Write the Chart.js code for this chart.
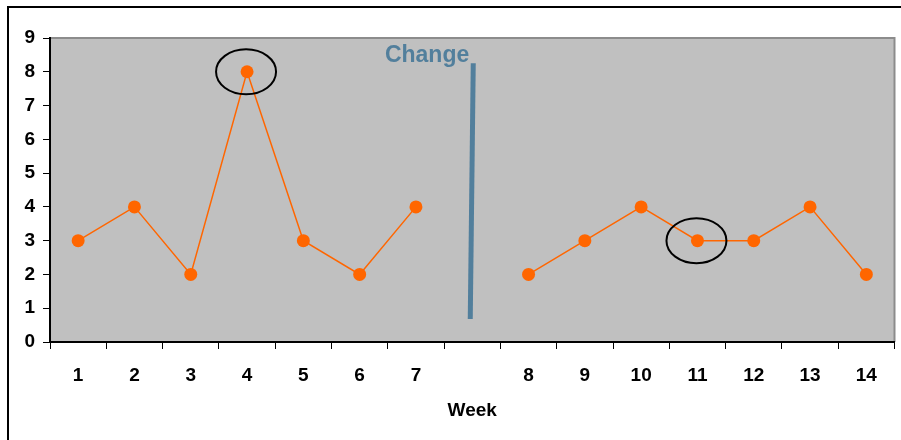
<!DOCTYPE html>
<html>
<head>
<meta charset="utf-8">
<script src="https://cdn.jsdelivr.net/npm/chart.js@4/dist/chart.umd.min.js"></script>
<style>
  html, body { margin: 0; padding: 0; background: #fff; }
  #wrap { width: 901px; height: 440px; position: relative; }
</style>
</head>
<body>
<div id="wrap"><canvas id="c"></canvas></div>
<script>
// Weekly counts, with an empty slot marking where the change was made
const weekLabels = ['1', '2', '3', '4', '5', '6', '7', '', '8', '9', '10', '11', '12', '13', '14'];
const countValues = [3, 4, 2, 8, 3, 2, 4, null, 2, 3, 4, 3, 3, 4, 2];
const circledWeeks = ['4', '11'];
const changeSlot = '';
const changeSpan = [0.68, 8.25];
const changeLabel = 'Change';
const axisTitle = 'Week';

const ORANGE = '#ff6600';
const CHANGE_BLUE = '#527f9c';

const frameAndAnnotations = {
  id: 'frameAndAnnotations',
  beforeDraw(chart) {
    const { ctx, chartArea: a } = chart;
    ctx.save();
    // outer frame (left and top edges)
    ctx.strokeStyle = '#000';
    ctx.lineWidth = 2;
    ctx.beginPath();
    ctx.moveTo(8, 440);
    ctx.lineTo(8, 7);
    ctx.lineTo(901, 7);
    ctx.stroke();
    // plot area
    ctx.fillStyle = '#c0c0c0';
    ctx.fillRect(a.left, a.top, a.right - a.left, a.bottom - a.top);
    ctx.strokeStyle = '#8c8c8c';
    ctx.lineWidth = 2;
    ctx.beginPath();
    ctx.moveTo(a.left, a.top);
    ctx.lineTo(a.right, a.top);
    ctx.lineTo(a.right, a.bottom);
    ctx.stroke();
    ctx.restore();
  },
  afterDatasetsDraw(chart) {
    const { ctx } = chart;
    const xs = chart.scales.x, ys = chart.scales.y;
    ctx.save();
    // change marker
    const cx = xs.getPixelForValue(weekLabels.indexOf(changeSlot));
    const yTop = ys.getPixelForValue(changeSpan[1]);
    const yBot = ys.getPixelForValue(changeSpan[0]);
    ctx.strokeStyle = CHANGE_BLUE;
    ctx.lineWidth = 5;
    ctx.beginPath();
    ctx.moveTo(cx + 1, yTop);
    ctx.lineTo(cx - 2, yBot);
    ctx.stroke();
    ctx.fillStyle = CHANGE_BLUE;
    ctx.font = 'bold 23px "Liberation Sans", Arial, sans-serif';
    ctx.textAlign = 'right';
    ctx.textBaseline = 'alphabetic';
    ctx.fillText(changeLabel, cx - 3, yTop - 1);
    // circled points
    ctx.strokeStyle = '#000';
    ctx.lineWidth = 2;
    circledWeeks.forEach(w => {
      const i = weekLabels.indexOf(w);
      const px = xs.getPixelForValue(i);
      const py = ys.getPixelForValue(countValues[i]);
      ctx.beginPath();
      ctx.ellipse(px - 1, py, 30, 22.5, 0, 0, Math.PI * 2);
      ctx.stroke();
    });
    ctx.restore();
  }
};

const tickFont = { family: '"Liberation Sans", Arial, sans-serif', size: 19, weight: 'bold' };

new Chart(document.getElementById('c'), {
  type: 'line',
  data: {
    labels: weekLabels,
    datasets: [{
      data: countValues,
      borderColor: ORANGE,
      backgroundColor: ORANGE,
      borderWidth: 1.5,
      pointRadius: 6.5,
      pointHoverRadius: 6.5,
      pointBorderWidth: 0,
      tension: 0,
      spanGaps: false
    }]
  },
  options: {
    responsive: true,
    maintainAspectRatio: false,
    animation: false,
    events: [],
    layout: { padding: { top: 38, right: 4, left: 0, bottom: 0 } },
    plugins: { legend: { display: false }, tooltip: { enabled: false } },
    scales: {
      x: {
        type: 'category',
        offset: true,
        grid: { offset: true, drawOnChartArea: false, tickLength: 7, color: '#000', lineWidth: 1 },
        border: { color: '#000', width: 2 },
        ticks: { font: tickFont, color: '#000', padding: 15, autoSkip: false, maxRotation: 0 },
        title: {
          display: true, text: axisTitle, color: '#000',
          font: { family: '"Liberation Sans", Arial, sans-serif', size: 19, weight: 'bold' },
          padding: { top: 0, bottom: 18 }
        },
        afterFit(scale) { scale.height = 98; }
      },
      y: {
        min: 0, max: 9,
        grid: { drawOnChartArea: false, tickLength: 7, color: '#000', lineWidth: 1 },
        border: { color: '#000', width: 2 },
        ticks: { stepSize: 1, font: tickFont, color: '#000', padding: 8 },
        afterFit(scale) { scale.width = 50; }
      }
    }
  },
  plugins: [frameAndAnnotations]
});
</script>
</body>
</html>
